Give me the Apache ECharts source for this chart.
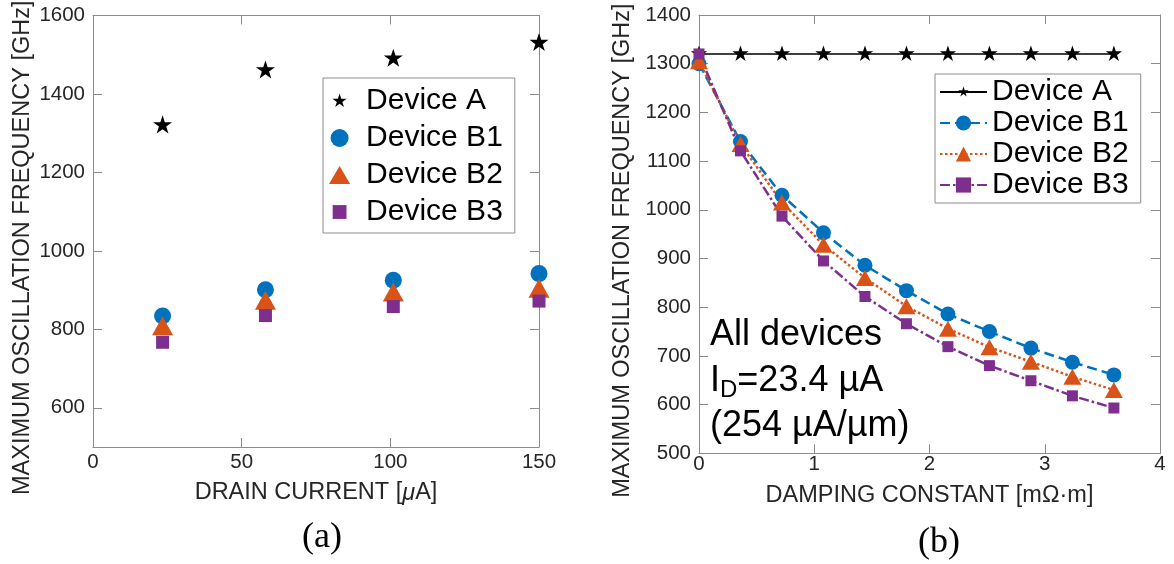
<!DOCTYPE html>
<html><head><meta charset="utf-8">
<script src="https://cdn.jsdelivr.net/npm/echarts@6/dist/echarts.min.js"></script>
<style>html,body{margin:0;padding:0;background:#fff}#c{width:1174px;height:564px}</style>
</head><body><div id="c"></div>
<script>
// ---------- Panel (a): fmax vs drain current ----------
const drainCurrent = [23.4, 58, 101, 150];
const aDevA  = [1320, 1460, 1490, 1530];
const aDevB1 = [834, 901, 925, 942];
const aDevB2 = [809, 874, 895, 905];
const aDevB3 = [767, 835, 858, 872];
const aYTicks = [600, 800, 1000, 1200, 1400, 1600];

// ---------- Panel (b): fmax vs damping constant ----------
const damping = [0, 0.36, 0.72, 1.08, 1.44, 1.8, 2.16, 2.52, 2.88, 3.24, 3.6];
const bDevA  = [1320, 1320, 1320, 1320, 1320, 1320, 1320, 1320, 1320, 1320, 1320];
const bDevB1 = [1300, 1140, 1030, 953, 886, 834, 786, 750, 716, 687, 661];
const bDevB2 = [1305, 1135, 1015, 928, 860, 802, 756, 718, 688, 657, 630];
const bDevB3 = [1320, 1121, 987, 895, 822, 766, 719, 680, 649, 618, 593];

const seriesNames = ['Device A', 'Device B1', 'Device B2', 'Device B3'];

const STAR_PTS = 'M50 0 L61.23 34.55 L97.55 34.55 L68.16 55.9 L79.39 90.45 L50 69.1 L20.61 90.45 L31.84 55.9 L2.45 34.55 L38.77 34.55 Z';
const STAR = 'path://M-20 -20 M120 120 ' + STAR_PTS;
const STAR_LEG = 'path://M-10 -10 M110 110 ' + STAR_PTS;
const TRI = 'path://M0 85 L50 0 L100 85 Z';
const SQR = 'path://M-15 -15 M115 115 M0 0 L100 0 L100 100 L0 100 Z';
const COL = ['#000000', '#0072BD', '#D95319', '#7E2F8E'];
const AX = '#8c8c8c', TXT = '#262626';
const FONT = '"Liberation Sans", Arial, Helvetica, sans-serif';
const SERIF = '"Liberation Serif", "Times New Roman", serif';

function zip(xs, ys) { return xs.map((x, i) => [x, ys[i]]); }
const plain = v => String(v);

function xAx(grid, pos, min, max, interval, show, name, nameGap, rich) {
  return {
    gridIndex: grid, type: 'value', position: pos, min: min, max: max, interval: interval,
    axisLine: { onZero: false, lineStyle: { color: AX, width: 1 } },
    axisTick: { inside: true, length: 9, lineStyle: { color: AX } },
    axisLabel: { show: show, color: TXT, fontSize: 20.5, fontFamily: FONT, margin: grid === 0 ? 5 : 1, formatter: plain },
    splitLine: { show: false },
    name: show ? name : '', nameLocation: 'middle', nameGap: nameGap,
    nameTextStyle: { color: TXT, fontSize: 23.5, fontFamily: FONT, rich: rich }
  };
}
function yAx(grid, pos, min, max, opts, show, nameGap) {
  const o = {
    gridIndex: grid, type: 'value', position: pos, min: min, max: max,
    axisLine: { onZero: false, lineStyle: { color: AX, width: 1 } },
    axisTick: { inside: true, length: 9, lineStyle: { color: AX } },
    axisLabel: { show: show, color: TXT, fontSize: 20.5, fontFamily: FONT, margin: 8, formatter: plain },
    splitLine: { show: false },
    name: show ? 'MAXIMUM OSCILLATION FREQUENCY [GHz]' : '',
    nameLocation: 'middle', nameGap: nameGap,
    nameTextStyle: { color: TXT, fontSize: 23.5, fontFamily: FONT, padding: [0, 33, 0, 0] }
  };
  if (opts.interval) o.interval = opts.interval;
  if (opts.ticks) { o.axisLabel.customValues = opts.ticks; o.axisTick.customValues = opts.ticks; }
  return o;
}

const muRich = { mu: { fontStyle: 'italic', fontSize: 23.5, fontFamily: FONT, color: TXT } };

const option = {
  animation: false,
  backgroundColor: '#ffffff',
  grid: [
    { left: 93, top: 15.5, width: 446, height: 431.5, outerBoundsMode: 'none' },
    { left: 699, top: 15, width: 461, height: 438.3, outerBoundsMode: 'none' }
  ],
  xAxis: [
    xAx(0, 'bottom', 0, 150, 50, true, 'DRAIN CURRENT [{mu|\u03bc}A]', 34, muRich),
    xAx(0, 'top', 0, 150, 50, false),
    xAx(1, 'bottom', 0, 4, 1, true, 'DAMPING CONSTANT [m\u03a9\u00b7m]', 30),
    xAx(1, 'top', 0, 4, 1, false)
  ],
  yAxis: [
    yAx(0, 'left', 500, 1600, { ticks: aYTicks }, true, 58),
    yAx(0, 'right', 500, 1600, { ticks: aYTicks }, false, 0),
    yAx(1, 'left', 500, 1400, { interval: 100 }, true, 64),
    yAx(1, 'right', 500, 1400, { interval: 100 }, false, 0)
  ],
  legend: [
    {
      data: [
        { name: 'a:' + seriesNames[0], icon: STAR_LEG },
        { name: 'a:' + seriesNames[1], icon: 'circle' },
        { name: 'a:' + seriesNames[2], icon: TRI },
        { name: 'a:' + seriesNames[3], icon: SQR }
      ],
      formatter: n => n.slice(2),
      orient: 'vertical', left: 323, top: 78,
      padding: [8, 12, 6, 6], itemWidth: 43, itemHeight: 18, itemGap: 7,
      borderColor: AX, borderWidth: 1, backgroundColor: '#fff',
      selectedMode: false,
      textStyle: { fontSize: 30, fontFamily: FONT, color: '#000', lineHeight: 30 }
    },
    {
      data: seriesNames.map(n => 'b:' + n),
      formatter: n => n.slice(2),
      orient: 'vertical', left: 935, top: 74,
      padding: [3, 12, 3, 4], itemWidth: 47, itemHeight: 19, itemGap: 1,
      borderColor: AX, borderWidth: 1, backgroundColor: '#fff',
      selectedMode: false,
      textStyle: { fontSize: 30, fontFamily: FONT, color: '#000', lineHeight: 30 }
    }
  ],
  series: [
    { type: 'scatter', name: 'a:' + seriesNames[0], xAxisIndex: 0, yAxisIndex: 0, data: zip(drainCurrent, aDevA),
      symbol: STAR, symbolSize: 28, symbolKeepAspect: true, itemStyle: { color: COL[0], opacity: 1 } },
    { type: 'scatter', name: 'a:' + seriesNames[1], xAxisIndex: 0, yAxisIndex: 0, data: zip(drainCurrent, aDevB1),
      symbol: 'circle', symbolSize: 17, itemStyle: { color: COL[1], opacity: 1 } },
    { type: 'scatter', name: 'a:' + seriesNames[2], xAxisIndex: 0, yAxisIndex: 0, data: zip(drainCurrent, aDevB2),
      symbol: 'triangle', symbolSize: [21, 19], itemStyle: { color: COL[2], opacity: 1 } },
    { type: 'scatter', name: 'a:' + seriesNames[3], xAxisIndex: 0, yAxisIndex: 0, data: zip(drainCurrent, aDevB3),
      symbol: 'rect', symbolSize: 13, itemStyle: { color: COL[3], opacity: 1 } },

    { type: 'line', name: 'b:' + seriesNames[0], xAxisIndex: 2, yAxisIndex: 2, data: zip(damping, bDevA),
      symbol: STAR, symbolSize: 24, symbolKeepAspect: true, showAllSymbol: true,
      lineStyle: { color: COL[0], width: 1.6, type: 'solid' }, itemStyle: { color: COL[0], opacity: 1 } },
    { type: 'line', name: 'b:' + seriesNames[1], xAxisIndex: 2, yAxisIndex: 2, data: zip(damping, bDevB1),
      symbol: 'circle', symbolSize: 15, showAllSymbol: true,
      lineStyle: { color: COL[1], width: 2.5, type: [10, 5] }, itemStyle: { color: COL[1], opacity: 1 } },
    { type: 'line', name: 'b:' + seriesNames[2], xAxisIndex: 2, yAxisIndex: 2, data: zip(damping, bDevB2),
      symbol: 'triangle', symbolSize: [18, 16], showAllSymbol: true,
      lineStyle: { color: COL[2], width: 2.5, type: [2.5, 2.5] }, itemStyle: { color: COL[2], opacity: 1 } },
    { type: 'line', name: 'b:' + seriesNames[3], xAxisIndex: 2, yAxisIndex: 2, data: zip(damping, bDevB3),
      symbol: 'rect', symbolSize: 11, showAllSymbol: true,
      lineStyle: { color: COL[3], width: 2.5, type: [10, 3, 2.5, 3] }, itemStyle: { color: COL[3], opacity: 1 } }
  ],
  graphic: [
    { type: 'text', x: 322, y: 537.5, style: { text: '(a)', fontSize: 36, fontFamily: SERIF, fill: '#000', align: 'center', verticalAlign: 'middle' } },
    { type: 'text', x: 939, y: 542.5, style: { text: '(b)', fontSize: 36, fontFamily: SERIF, fill: '#000', align: 'center', verticalAlign: 'middle' } },
    { type: 'text', x: 710, y: 335, style: { text: 'All devices', fontSize: 36, fontFamily: FONT, fill: '#000', align: 'left', verticalAlign: 'middle', lineHeight: 44 } },
    { type: 'text', x: 710, y: 380.7, style: {
        text: '{m|I}{s|D}{m|=23.4 \u00b5A}', align: 'left', verticalAlign: 'middle', fill: '#000',
        rich: {
          m: { fontSize: 36, fontFamily: FONT, fill: '#000', lineHeight: 44 },
          s: { fontSize: 24, fontFamily: FONT, fill: '#000', lineHeight: 26, verticalAlign: 'bottom' }
        } } },
    { type: 'text', x: 710, y: 426.4, style: { text: '(254 \u00b5A/\u00b5m)', fontSize: 36, fontFamily: FONT, fill: '#000', align: 'left', verticalAlign: 'middle', lineHeight: 44 } }
  ]
};

const chart = echarts.init(document.getElementById('c'), null, { renderer: 'canvas' });
chart.setOption(option);
</script>
</body></html>
